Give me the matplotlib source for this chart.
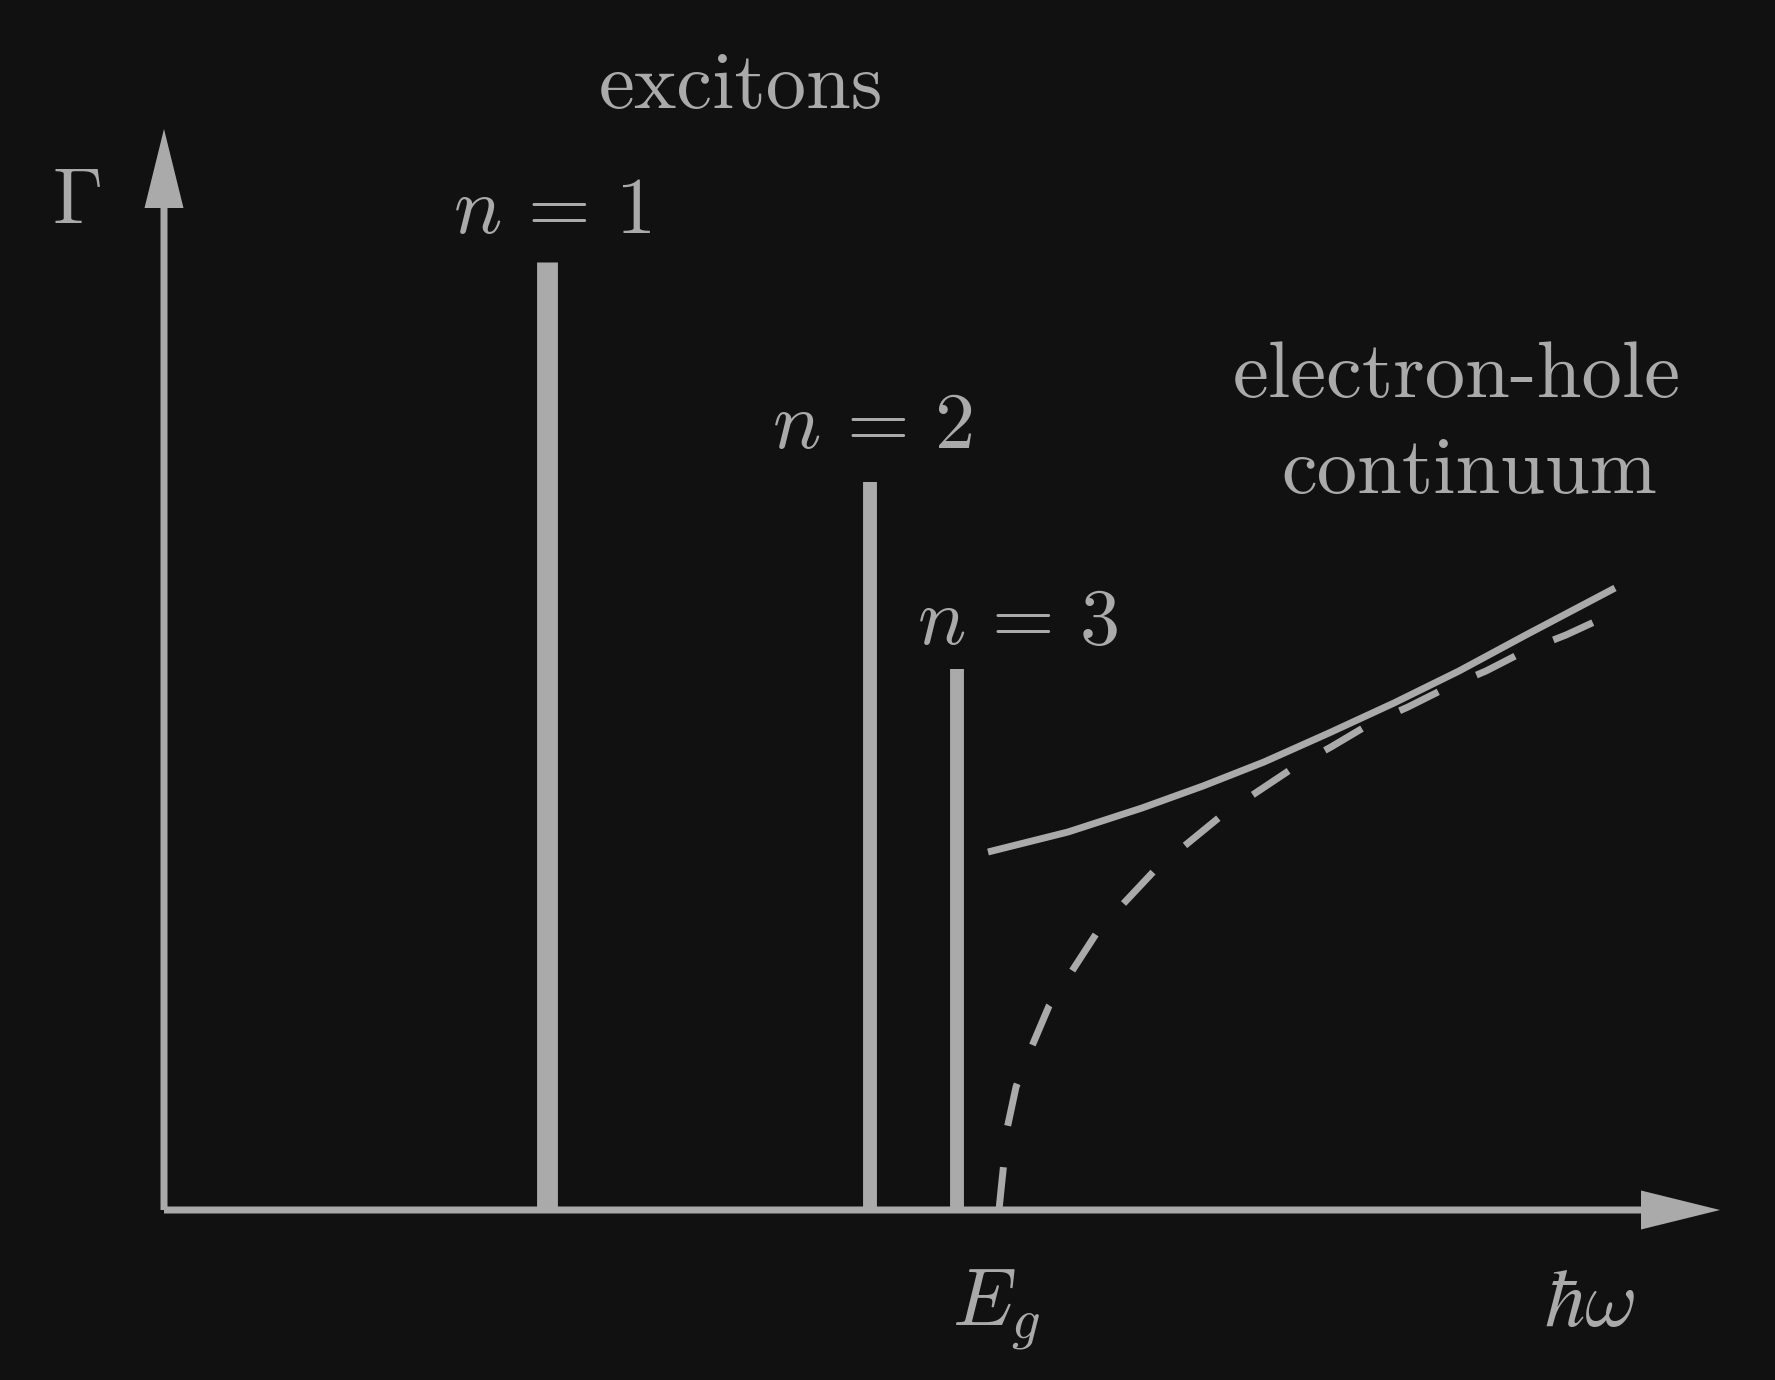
import matplotlib
matplotlib.use("Agg")
import matplotlib.pyplot as plt
import numpy as np

plt.rcParams['mathtext.fontset'] = 'cm'

fg = '#aaaaaa'
bg = '#111111'

# exciton lines: position, height
exc_x = [3.83, 7.06, 7.93]
exc_h = [9.48, 7.28, 5.41]
exc_lw = [15.0, 10.0, 10.0]
exc_labels = [r'$n\,=\,1$', r'$n\,=\,2$', r'$n\,=\,3$']
exc_label_pos = [(3.88, 9.77), (7.08, 7.62), (8.54, 5.66)]

# continuum with Coulomb enhancement (solid)
cont_x = [8.24, 9.04, 9.78, 10.39, 11.00, 11.65, 12.30, 12.95, 13.60, 14.51]
cont_y = [3.58, 3.78, 4.02, 4.24, 4.48, 4.77, 5.07, 5.39, 5.74, 6.22]

# free electron-hole continuum (dashed)
free_x = [8.35, 8.37, 8.39, 8.43, 8.52, 8.68, 8.85, 9.08, 9.32, 9.60, 9.91,
          10.24, 10.57, 10.93, 11.29, 11.67, 12.04, 12.44, 12.82, 13.22,
          13.61, 14.02, 14.41]
free_y = [0.0, 0.20, 0.39, 0.81, 1.23, 1.64, 2.04, 2.39, 2.76, 3.07, 3.40,
          3.67, 3.94, 4.18, 4.42, 4.63, 4.85, 5.03, 5.22, 5.39, 5.59, 5.75,
          5.93]

fig = plt.figure(figsize=(17.75, 13.8), dpi=100, facecolor=bg)
ax = fig.add_axes([0, 0, 1, 1])
ax.set_facecolor(bg)
ax.set_xlim(-1.64, 16.11)
ax.set_ylim(-1.70, 12.10)
ax.axis('off')

# axes with arrow heads
ax.arrow(0, 0, 15.56, 0, width=0.07, head_width=0.39, head_length=0.79,
         length_includes_head=True, color=fg, lw=0)
ax.arrow(0, 0, 0, 10.81, width=0.07, head_width=0.39, head_length=0.79,
         length_includes_head=True, color=fg, lw=0)

# exciton lines
for x, h, lw in zip(exc_x, exc_h, exc_lw):
    ax.plot([x, x], [0, h], color=fg, lw=lw, solid_capstyle='butt')

ax.plot(cont_x, cont_y, color=fg, lw=5, solid_capstyle='butt')
ax.plot(free_x, free_y, color=fg, lw=5, dashes=(6.2, 6.0), dash_capstyle='butt')

fs = 58
for lab, (x, y) in zip(exc_labels, exc_label_pos):
    ax.text(x, y, lab, color=fg, fontsize=fs, ha='center', va='baseline')

ax.text(5.77, 11.02, 'excitons', family='cmr10', color=fg, fontsize=fs,
        ha='center', va='baseline')
ax.text(12.93, 8.13, 'electron-hole', family='cmr10', color=fg, fontsize=fs,
        ha='center', va='baseline')
ax.text(13.05, 7.17, 'continuum', family='cmr10', color=fg, fontsize=fs,
        ha='center', va='baseline')
ax.text(-0.88, 9.87, r'$\Gamma$', color=fg, fontsize=fs, ha='center', va='baseline')
ax.text(8.32, -1.15, r'$E_g$', color=fg, fontsize=fs, ha='center', va='baseline')
ax.text(14.26, -1.16, r'$\hbar\omega$', color=fg, fontsize=fs, ha='center', va='baseline')

fig.savefig('out.png', dpi=100, facecolor=bg)
